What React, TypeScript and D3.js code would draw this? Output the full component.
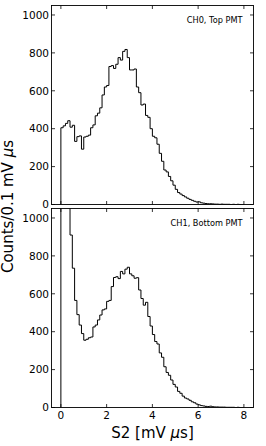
import { useEffect, useRef } from "react";
import * as d3 from "d3";

// bin width 0.1 mV us, bins start at 0.0 and run to 8.0
const binWidth = 0.1;
const binCount = 80;

const ch0Counts = [
	405, 415, 428, 442, 408, 418, 333, 358, 362, 292,
	356, 360, 366, 405, 420, 468, 482, 510, 578, 620,
	628, 728, 733, 718, 740, 775, 762, 808, 818, 775,
	710, 710, 715, 620, 590, 525, 530, 470, 460, 400,
	360, 352, 318, 270, 228, 182, 172, 148, 125, 102,
	80, 63, 55, 47, 40, 33, 27, 22, 17, 13,
	14, 9, 7, 5, 4, 4, 3, 2, 2, 1,
	2, 1, 1, 1, 0, 1, 0, 1, 0, 0
];

const ch1Counts = [
	4800, 3100, 2000, 1350, 910, 735, 565, 490, 435, 390,
	355, 360, 368, 372, 425, 435, 462, 488, 515, 520,
	560, 565, 638, 686, 690, 680, 718, 705, 730, 740,
	705, 695, 682, 685, 620, 575, 540, 555, 480, 430,
	385, 348, 335, 288, 265, 215, 185, 170, 145, 122,
	108, 85, 75, 60, 50, 45, 38, 30, 25, 18,
	14, 10, 8, 6, 5, 7, 4, 3, 3, 2,
	2, 2, 1, 1, 1, 1, 0, 1, 0, 0
];

const panels = [
	{ id: "ch0", label: "CH0, Top PMT", counts: ch0Counts },
	{ id: "ch1", label: "CH1, Bottom PMT", counts: ch1Counts }
];

const xTicks = [0, 2, 4, 6, 8];
const yTicks = [0, 200, 400, 600, 800, 1000];
const xDomain: [number, number] = [-0.41, 8.42];
const yDomain: [number, number] = [0, 1050];

const font = "DejaVu Sans, sans-serif";

export default function App() {
	const ref = useRef<SVGSVGElement>(null);

	useEffect(() => {
		if (!ref.current) return;
		const svg = d3.select(ref.current);
		svg.selectAll("*").remove();

		const left = 51.5;
		const right = 253.5;
		const panelTop = 5.5;
		const panelHeight = 199;
		const gap = 4;
		const tickLen = 3.5;

		const x = d3.scaleLinear().domain(xDomain).range([left, right]);

		panels.forEach((panel, i) => {
			const top = panelTop + i * (panelHeight + gap);
			const bottom = top + panelHeight;
			const y = d3.scaleLinear().domain(yDomain).range([bottom, top]);

			const g = svg.append("g");

			g.append("clipPath")
				.attr("id", `clip-${panel.id}`)
				.append("rect")
				.attr("x", left)
				.attr("y", top)
				.attr("width", right - left)
				.attr("height", panelHeight);

			const points: [number, number][] = [[0, 0]];
			for (let b = 0; b < binCount; b++) {
				points.push([b * binWidth, panel.counts[b]]);
			}
			points.push([binCount * binWidth, 0]);

			const line = d3
				.line<[number, number]>()
				.x((d) => x(d[0]))
				.y((d) => y(d[1]))
				.curve(d3.curveStepAfter);

			g.append("path")
				.attr("d", line(points) ?? "")
				.attr("fill", "none")
				.attr("stroke", "#000")
				.attr("stroke-width", 1)
				.attr("clip-path", `url(#clip-${panel.id})`);

			// ticks, inward on all four sides
			const ticks = g.append("g").attr("stroke", "#000").attr("stroke-width", 0.8);
			xTicks.forEach((t) => {
				ticks.append("line").attr("x1", x(t)).attr("x2", x(t)).attr("y1", bottom).attr("y2", bottom - tickLen);
				ticks.append("line").attr("x1", x(t)).attr("x2", x(t)).attr("y1", top).attr("y2", top + tickLen);
			});
			yTicks.forEach((t) => {
				ticks.append("line").attr("x1", left).attr("x2", left + tickLen).attr("y1", y(t)).attr("y2", y(t));
				ticks.append("line").attr("x1", right).attr("x2", right - tickLen).attr("y1", y(t)).attr("y2", y(t));
			});

			g.append("rect")
				.attr("x", left)
				.attr("y", top)
				.attr("width", right - left)
				.attr("height", panelHeight)
				.attr("fill", "none")
				.attr("stroke", "#000")
				.attr("stroke-width", 0.9);

			g.selectAll("text.ytick")
				.data(yTicks)
				.join("text")
				.attr("class", "ytick")
				.attr("x", left - 2.5)
				.attr("y", (d) => y(d))
				.attr("dy", "0.36em")
				.attr("text-anchor", "end")
				.attr("font-family", font)
				.attr("font-size", 10.5)
				.attr("fill", "#000")
				.text((d) => `${d}`);

			g.append("text")
				.attr("x", right - 11)
				.attr("y", top + 17.6)
				.attr("text-anchor", "end")
				.attr("font-family", font)
				.attr("font-size", 8.2)
				.attr("fill", "#000")
				.text(panel.label);

			if (i === panels.length - 1) {
				g.selectAll("text.xtick")
					.data(xTicks)
					.join("text")
					.attr("class", "xtick")
					.attr("x", (d) => x(d))
					.attr("y", bottom + 11.5)
					.attr("text-anchor", "middle")
					.attr("font-family", font)
					.attr("font-size", 10.5)
					.attr("fill", "#000")
					.text((d) => `${d}`);

				const xl = svg
					.append("text")
					.attr("x", (left + right) / 2)
					.attr("y", 438)
					.attr("text-anchor", "middle")
					.attr("font-family", font)
					.attr("font-size", 15)
					.attr("fill", "#000");
				xl.append("tspan").text("S2 [mV ");
				xl.append("tspan").attr("font-style", "italic").text("μ");
				xl.append("tspan").text("s]");
			}
		});

		const yl = svg
			.append("text")
			.attr("transform", `translate(12.5,${panelTop + panelHeight + gap / 2}) rotate(-90)`)
			.attr("text-anchor", "middle")
			.attr("font-family", font)
			.attr("font-size", 15)
			.attr("fill", "#000");
		yl.append("tspan").text("Counts/0.1 mV ");
		yl.append("tspan").attr("font-style", "italic").text("μ");
		yl.append("tspan").text("s");
	}, []);

	return (
		<svg
			ref={ref}
			width={266}
			height={446}
			style={{ position: "absolute", left: 0, top: 0, background: "#fff" }}
		/>
	);
}
